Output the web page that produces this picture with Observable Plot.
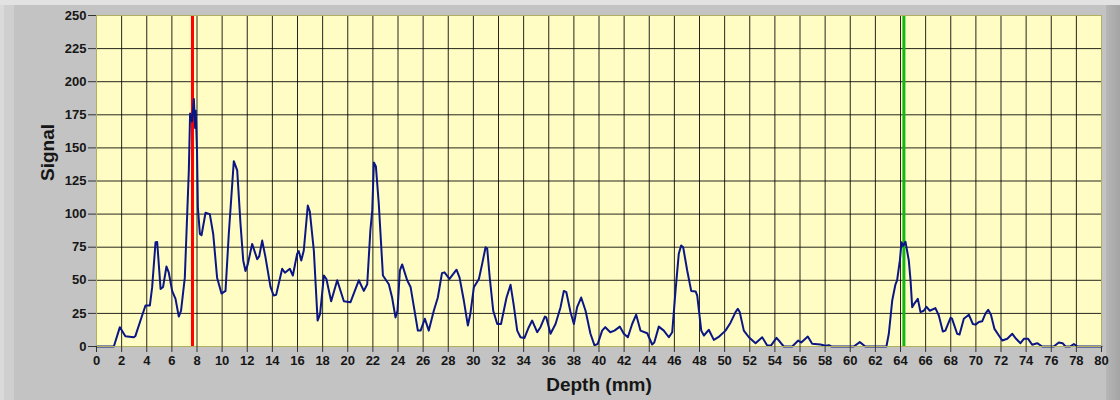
<!DOCTYPE html>
<html>
<head>
<meta charset="utf-8">
<script src="https://cdn.jsdelivr.net/npm/d3@7"></script>
<script src="https://cdn.jsdelivr.net/npm/@observablehq/plot@0.6"></script>
<style>
  html, body { margin: 0; padding: 0; background: #c3c3c3; }
  #wrap { position: relative; width: 1120px; height: 400px; background: #c3c3c3; overflow: hidden; }
  .deco { position: absolute; }
  #chart { position: absolute; left: 0; top: 0; }
</style>
</head>
<body>
<div id="wrap">
  <div class="deco" style="left:0;top:0;width:1120px;height:5px;background:#e2e2e2"></div>
  <div class="deco" style="left:0;top:5px;width:4px;height:395px;background:#dadada"></div>
  <div class="deco" style="left:4px;top:5px;width:10px;height:395px;background:#cfcfcf"></div>
  <div class="deco" style="left:1106px;top:5px;width:14px;height:395px;background:linear-gradient(to right,#b6b6b6,#a4a4a4)"></div>
  <div id="chart"></div>
</div>
<script>
const depth = [0,1.38,1.86,2.3,2.97,3.1,3.5,3.9,4.25,4.43,4.7,4.83,5.1,5.3,5.57,5.75,6.02,6.29,6.55,6.73,7.03,7.22,7.35,7.45,7.6,7.75,7.85,7.9,8.0,8.07,8.23,8.36,8.68,9.02,9.29,9.6,9.95,10.27,10.53,10.93,11.2,11.46,11.68,11.86,12.04,12.39,12.79,12.95,13.19,13.45,13.85,14.1,14.3,14.78,15.0,15.39,15.63,15.97,16.1,16.3,16.5,16.82,16.98,17.3,17.6,17.8,18.1,18.3,18.68,19.16,19.69,20.22,20.88,21.28,21.55,21.8,21.95,22.08,22.24,22.47,22.8,23.27,23.53,23.8,23.96,24.15,24.33,24.73,25.0,25.58,25.8,26.14,26.45,26.85,27.17,27.5,27.7,28.1,28.66,28.9,29.24,29.56,29.76,30.04,30.44,30.7,30.97,31.1,31.3,31.58,31.9,32.2,32.64,32.96,33.2,33.49,33.75,34.07,34.41,34.68,35.08,35.34,35.69,35.8,36.14,36.54,36.94,37.2,37.4,37.73,38.0,38.26,38.58,38.93,39.32,39.64,39.9,40.25,40.5,40.9,41.23,41.66,41.98,42.3,42.64,42.96,43.3,43.84,44.23,44.4,44.76,45.16,45.56,45.83,46.09,46.35,46.54,46.7,47.02,47.34,47.7,47.82,48.14,48.35,48.74,49.14,49.5,50.07,50.47,50.87,51.05,51.2,51.53,51.93,52.46,52.99,53.39,53.7,54.13,54.45,54.71,55.38,55.86,56.1,56.62,56.97,57.63,58.03,58.3,58.5,60.28,60.76,61.2,62.88,63.07,63.34,63.6,63.73,63.95,64.08,64.2,64.4,64.66,64.8,64.93,65.07,65.38,65.59,65.85,66.07,66.33,66.78,67.05,67.37,67.57,67.98,68.1,68.51,68.7,69.04,69.44,69.76,69.97,70.24,70.5,70.77,70.98,71.2,71.48,71.83,72.1,72.5,72.9,73.2,73.55,73.82,74.16,74.48,74.88,75.28,76.2,76.6,76.9,77.13,77.5,77.8,78.1,80];
const signal = [0,0,14.6,7.8,7,8,19.6,31,31,44.8,78.8,79,43.5,45,60.4,56,42,36,22.6,27,52,100,133,176,170,187,165,178,148,105,85,84,101,100,85,52,40,42,85,140,133,93,65,57,62,77.5,66,68,80,67.5,45,38.5,39,58.7,55.7,58.7,53.6,70,72,65,72.5,106.5,102,72.5,19.6,24.7,53.6,51,34.2,50,34.2,33.5,50,42,47,87.6,102.7,139,136,107.8,53.6,47,37,22,27,57.4,62,50,45,12,12,21,12,27,37,55.4,56,51,58,52,34.7,15.9,24.7,44.8,51,62.4,75,74,52.3,27,17,17,37,46.6,32,12,7,6.5,14.6,19.6,10.8,14.6,22.6,22,9.6,17,29.7,42,41,26,17,29.7,37,27,9.6,0.8,2,12,14.6,10.8,12,15,9.6,7,17,24,12,10,1.5,3,15,12,7,10.8,42,70,76.3,75,57.4,42,41.5,38.5,12,8.3,12.6,5,7,12,18,26,28.5,26,12,7,2.5,7,0.8,0.8,6.5,3,0,0,4.5,3,7.5,2,1.5,0.5,1,0,0,3.3,0,0,9.6,34.7,47,50,65,78.8,76,79,65,50,29.7,32,36,26,27,30,27,29,23.4,11.3,12,21.7,21,9.6,9,21,24,17,16.5,18.5,19,25,27.7,24,13.3,8.3,4.5,5.8,9.6,5.8,2.5,5.8,5.8,1.3,2.5,0,0,3,2.5,0,0,1.8,0,0];
const xTicks = d3.range(0, 81, 2);
const yTicks = d3.range(0, 251, 25);
const redCursor = [7.64];
const greenCursor = [64.27];
const xTitle = "Depth (mm)";
const yTitle = "Signal";

const data = depth.map((d, i) => ({depth: d, signal: signal[i]}));

const chart = Plot.plot({
  width: 1120,
  height: 400,
  marginLeft: 96,
  marginRight: 19,
  marginTop: 15,
  marginBottom: 54,
  style: {background: "transparent", fontFamily: "'Liberation Sans', Arial, sans-serif", fontSize: "13px", fontWeight: "bold", color: "#161616"},
  x: {domain: [0, 80]},
  y: {domain: [0, 250]},
  marks: [
    Plot.frame({fill: "#fffdc4", stroke: null}),
    Plot.gridX(xTicks, {stroke: "#000", strokeOpacity: 0.85, strokeWidth: 1}),
    Plot.gridY(yTicks, {stroke: "#000", strokeOpacity: 0.85, strokeWidth: 1}),
    Plot.ruleX(redCursor, {stroke: "#ff0000", strokeWidth: 3}),
    Plot.ruleX(greenCursor, {stroke: "#12b812", strokeWidth: 3}),
    Plot.line(data, {x: "depth", y: "signal", stroke: "#0b1685", strokeWidth: 2}),
    Plot.frame({stroke: "#b0b060", strokeWidth: 1}),
    Plot.axisX(xTicks, {label: null, tickSize: 6, tickPadding: 3, stroke: "#333", fontSize: 13, fontWeight: "bold"}),
    Plot.axisY(yTicks, {label: null, tickSize: 8, tickPadding: 2, stroke: "#333", fontSize: 13, fontWeight: "bold"}),
    Plot.text([xTitle], {frameAnchor: "bottom", dy: 38, fontSize: 19, fontWeight: "bold", fill: "#161616", lineAnchor: "middle"}),
    Plot.text([yTitle], {frameAnchor: "left", dx: -49, rotate: -90, fontSize: 19, fontWeight: "bold", fill: "#161616", lineAnchor: "middle"})
  ]
});
document.getElementById("chart").appendChild(chart);
</script>
</body>
</html>
